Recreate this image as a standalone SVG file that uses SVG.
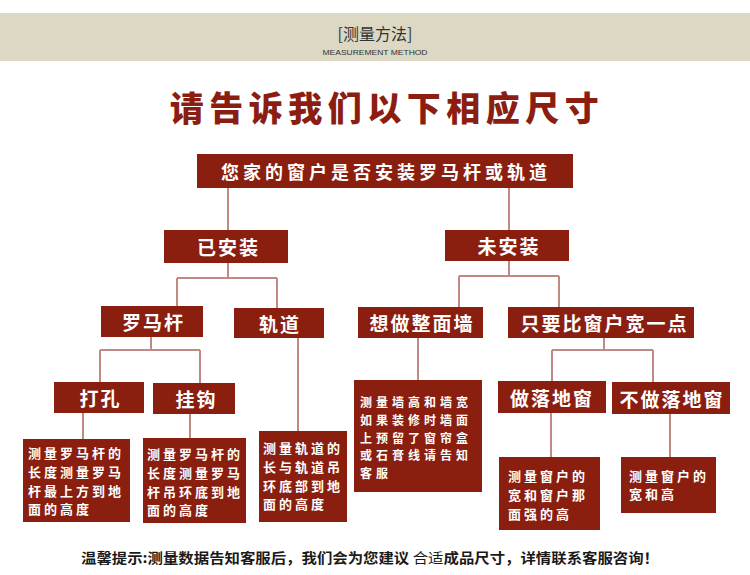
<svg xmlns="http://www.w3.org/2000/svg" width="750" height="575" viewBox="0 0 750 575">
<style>
.box{fill:#8a1e0f}
.lbl{font-family:"Noto Sans CJK SC","Noto Sans",sans-serif;font-weight:bold;fill:#ffffff}
.big{font-size:19px;letter-spacing:2px}
.small{font-size:13px;letter-spacing:3px}
.conn{stroke:#c08a82;stroke-width:2;fill:none}
</style>
<rect x="0" y="0" width="750" height="575" fill="#ffffff"/>
<g id="header">
<rect x="0" y="13" width="750" height="48" fill="#dcd8c4"/>
<text x="375" y="33" text-anchor="middle" dominant-baseline="central" font-family="'Noto Sans CJK SC',sans-serif" font-size="16" fill="#333333">[测量方法]</text>
<text x="375" y="52" text-anchor="middle" dominant-baseline="central" font-family="'Liberation Sans',sans-serif" font-size="8" fill="#333333" textLength="105" lengthAdjust="spacingAndGlyphs">MEASUREMENT METHOD</text>
</g>
<g id="title">
<text x="387" y="106" text-anchor="middle" dominant-baseline="central" font-family="'Noto Sans CJK SC',sans-serif" font-weight="900" font-size="34" letter-spacing="5.5" fill="#8b1e10">请告诉我们以下相应尺寸</text>
</g>
<g id="connectors" class="conn">
<path d="M228 188V230M509 188V230"/>
<path d="M228 263V278M177 278H277M177 278V306M277 278V308"/>
<path d="M509 261V276M459 276H559M459 276V307M559 276V307"/>
<path d="M151 337V350M100 350H200M100 350V382M200 350V383"/>
<path d="M83 413V439M190 414V438M298 338V431M418 338V380"/>
<path d="M604 338V350M552 350H653M552 350V381M653 350V382"/>
<path d="M551 413V457M670 414V457"/>
</g>
<g id="node-top">
<rect class="box" x="197" y="154" width="376" height="34"/>
<text class="lbl" x="386" y="171" text-anchor="middle" dominant-baseline="central" font-size="18" letter-spacing="4">您家的窗户是否安装罗马杆或轨道</text>
</g>
<g id="node-installed">
<rect class="box" x="164" y="230" width="124" height="33"/>
<text class="lbl big" x="228.5" y="246.5" text-anchor="middle" dominant-baseline="central">已安装</text>
</g>
<g id="node-not-installed">
<rect class="box" x="445" y="230" width="124" height="31"/>
<text class="lbl big" x="509" y="245.5" text-anchor="middle" dominant-baseline="central">未安装</text>
</g>
<g id="node-rod">
<rect class="box" x="101" y="306" width="102" height="31"/>
<text class="lbl big" x="153.5" y="321.5" text-anchor="middle" dominant-baseline="central">罗马杆</text>
</g>
<g id="node-track">
<rect class="box" x="234" y="308" width="90" height="30"/>
<text class="lbl big" x="280" y="323" text-anchor="middle" dominant-baseline="central">轨道</text>
</g>
<g id="node-wall">
<rect class="box" x="358" y="307" width="125" height="31"/>
<text class="lbl big" x="422" y="322.5" text-anchor="middle" dominant-baseline="central">想做整面墙</text>
</g>
<g id="node-wider">
<rect class="box" x="508" y="307" width="186" height="31"/>
<text class="lbl big" x="604.5" y="322.5" text-anchor="middle" dominant-baseline="central" letter-spacing="5.5">只要比窗户宽一点</text>
</g>
<g id="node-hole">
<rect class="box" x="54" y="382" width="90" height="31"/>
<text class="lbl big" x="100.5" y="397.5" text-anchor="middle" dominant-baseline="central">打孔</text>
</g>
<g id="node-hook">
<rect class="box" x="153" y="383" width="82" height="31"/>
<text class="lbl big" x="196.5" y="398.5" text-anchor="middle" dominant-baseline="central">挂钩</text>
</g>
<g id="node-floor">
<rect class="box" x="498" y="381" width="108" height="32"/>
<text class="lbl big" x="552" y="397" text-anchor="middle" dominant-baseline="central">做落地窗</text>
</g>
<g id="node-nofloor">
<rect class="box" x="612" y="382" width="118" height="32"/>
<text class="lbl big" x="672" y="398" text-anchor="middle" dominant-baseline="central">不做落地窗</text>
</g>
<g id="note-hole">
<rect class="box" x="23" y="439" width="107" height="83"/>
<text class="lbl small" dominant-baseline="central"><tspan x="28" y="452">测量罗马杆的</tspan><tspan x="28" y="471">长度测量罗马</tspan><tspan x="28" y="490">杆最上方到地</tspan><tspan x="28" y="508">面的高度</tspan></text>
</g>
<g id="note-hook">
<rect class="box" x="143" y="438" width="103" height="85"/>
<text class="lbl small" dominant-baseline="central"><tspan x="147" y="453">测量罗马杆的</tspan><tspan x="147" y="472">长度测量罗马</tspan><tspan x="147" y="491">杆吊环底到地</tspan><tspan x="147" y="509">面的高度</tspan></text>
</g>
<g id="note-track">
<rect class="box" x="259" y="431" width="88" height="91"/>
<text class="lbl small" dominant-baseline="central"><tspan x="263" y="447">测量轨道的</tspan><tspan x="263" y="466">长与轨道吊</tspan><tspan x="263" y="485">环底部到地</tspan><tspan x="263" y="503">面的高度</tspan></text>
</g>
<g id="note-wall">
<rect class="box" x="354" y="380" width="128" height="112"/>
<text class="lbl" dominant-baseline="central" font-size="12" letter-spacing="4"><tspan x="360" y="401">测量墙高和墙宽</tspan><tspan x="360" y="418.75">如果装修时墙面</tspan><tspan x="360" y="436.5">上预留了窗帘盒</tspan><tspan x="360" y="454.25">或石膏线请告知</tspan><tspan x="360" y="472">客服</tspan></text>
</g>
<g id="note-floor">
<rect class="box" x="499" y="457" width="101" height="73"/>
<text class="lbl small" dominant-baseline="central"><tspan x="508" y="475">测量窗户的</tspan><tspan x="508" y="494">宽和窗户那</tspan><tspan x="508" y="513">面强的高</tspan></text>
</g>
<g id="note-nofloor">
<rect class="box" x="621" y="457" width="95" height="56"/>
<text class="lbl small" dominant-baseline="central"><tspan x="629" y="475">测量窗户的</tspan><tspan x="629" y="493">宽和高</tspan></text>
</g>
<g id="footer">
<text x="81" y="557" dominant-baseline="central" font-family="'Noto Sans CJK SC',sans-serif" font-weight="bold" font-size="14" fill="#1a1a1a" textLength="578" lengthAdjust="spacingAndGlyphs">温馨提示:测量数据告知客服后，我们会为您建议 <tspan font-weight="normal">合适</tspan>成品尺寸，详情联系客服咨询！</text>
</g>
</svg>
